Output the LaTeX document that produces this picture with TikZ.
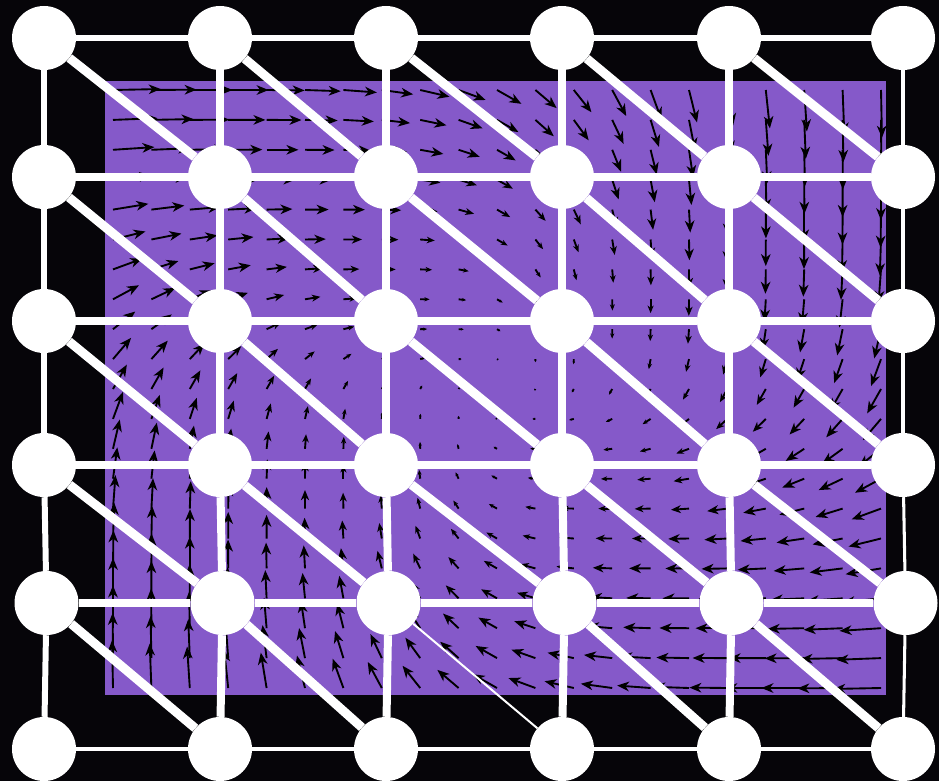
\documentclass[tikz,border=0pt]{standalone}
\usepackage{tikz}
\usetikzlibrary{arrows.meta}
\definecolor{night}{HTML}{060509}
\definecolor{lilac}{HTML}{8559C9}
\tikzset{
  vertex/.style={circle,fill=white,draw=none,minimum size=19.2mm,inner sep=0pt},
  rimedge/.style={white,line width=5.1pt},
  gridedge/.style={white,line width=6.8pt},
  thinedge/.style={white,line width=2.6pt},
  diagedge/.style={white,line width=7.7pt},
  hairedge/.style={white,line width=1.7pt},
  fieldarr/.style={black,line width=1.6pt}
}

\begin{document}
\begin{tikzpicture}[x=0.3mm,y=-0.3mm]
  % backdrop and field panel
  \fill[night] (0,0) rectangle (939,781);
  \useasboundingbox (0,0) rectangle (939,781);
  \fill[lilac] (105,81) rectangle (886,695);
  % vector field, tails on a 21x21 grid
  \foreach \i in {0,...,20}{
    \foreach \j in {0,...,20}{
      \pgfmathsetmacro{\px}{113+38.4*\i}
      \pgfmathsetmacro{\py}{90+29.9*\j}
      \pgfmathsetmacro{\X}{(\px-497)/384}
      \pgfmathsetmacro{\Y}{(389-\py)/299}
      \pgfmathsetmacro{\xr}{\X*cos(8)-\Y*sin(8)}
      \pgfmathsetmacro{\yr}{\X*sin(8)+\Y*cos(8)}
      \pgfmathsetmacro{\a}{\yr-\xr}
      \pgfmathsetmacro{\b}{\yr+\xr}
      \pgfmathsetmacro{\du}{\a*abs(\a)}
      \pgfmathsetmacro{\dv}{\b*abs(\b)}
      \pgfmathsetmacro{\dn}{max(veclen(\du,\dv),0.0001)}
      \pgfmathsetmacro{\mag}{21*(abs(\a)^3+abs(\b)^3)^0.4}
      \pgfmathsetmacro{\u}{\mag*\du/\dn}
      \pgfmathsetmacro{\v}{\mag*\dv/\dn}
      \pgfmathsetmacro{\hl}{min(12,0.55*\mag)*0.85}
      \pgfmathsetmacro{\hw}{0.8*\hl}
      \pgfmathsetmacro{\hi}{0.3*\hl}
      \ifdim\mag pt>1.5pt
        \draw[fieldarr,-{Stealth[length=\hl pt,width=\hw pt,inset=\hi pt]}]
          (\px,\py) -- ++(\u,\v);
      \fi
    }
  }
  % vertices
  \foreach \c/\cx in {0/44,1/220,2/386,3/562,4/729,5/903}{
    \foreach \r/\ry in {0/38,1/177,2/321,3/465,5/749}{
      \node[vertex] (n\c\r) at (\cx,\ry) {};
    }
    \node[vertex] (n\c4) at (\cx+2.5,603) {};
  }
  % rows
  \foreach \r/\st in {0/rimedge,1/gridedge,2/gridedge,3/gridedge,4/gridedge,5/thinedge}{
    \foreach \c [count=\d] in {0,...,4}{
      \draw[\st] (n\c\r) -- (n\d\r);
    }
  }
  % columns
  \foreach \c/\st in {0/rimedge,1/gridedge,2/gridedge,3/gridedge,4/gridedge,5/thinedge}{
    \foreach \r [count=\s] in {0,...,4}{
      \draw[\st] (n\c\r) -- (n\c\s);
    }
  }
  % diagonals
  \foreach \c [count=\d] in {0,...,4}{
    \foreach \r [count=\s] in {0,...,4}{
      \ifnum\c\r=24
        \draw[hairedge] (n\c\r) -- (n\d\s);
      \else
        \draw[diagedge] (n\c\r) -- (n\d\s);
      \fi
    }
  }
\end{tikzpicture}
\end{document}
